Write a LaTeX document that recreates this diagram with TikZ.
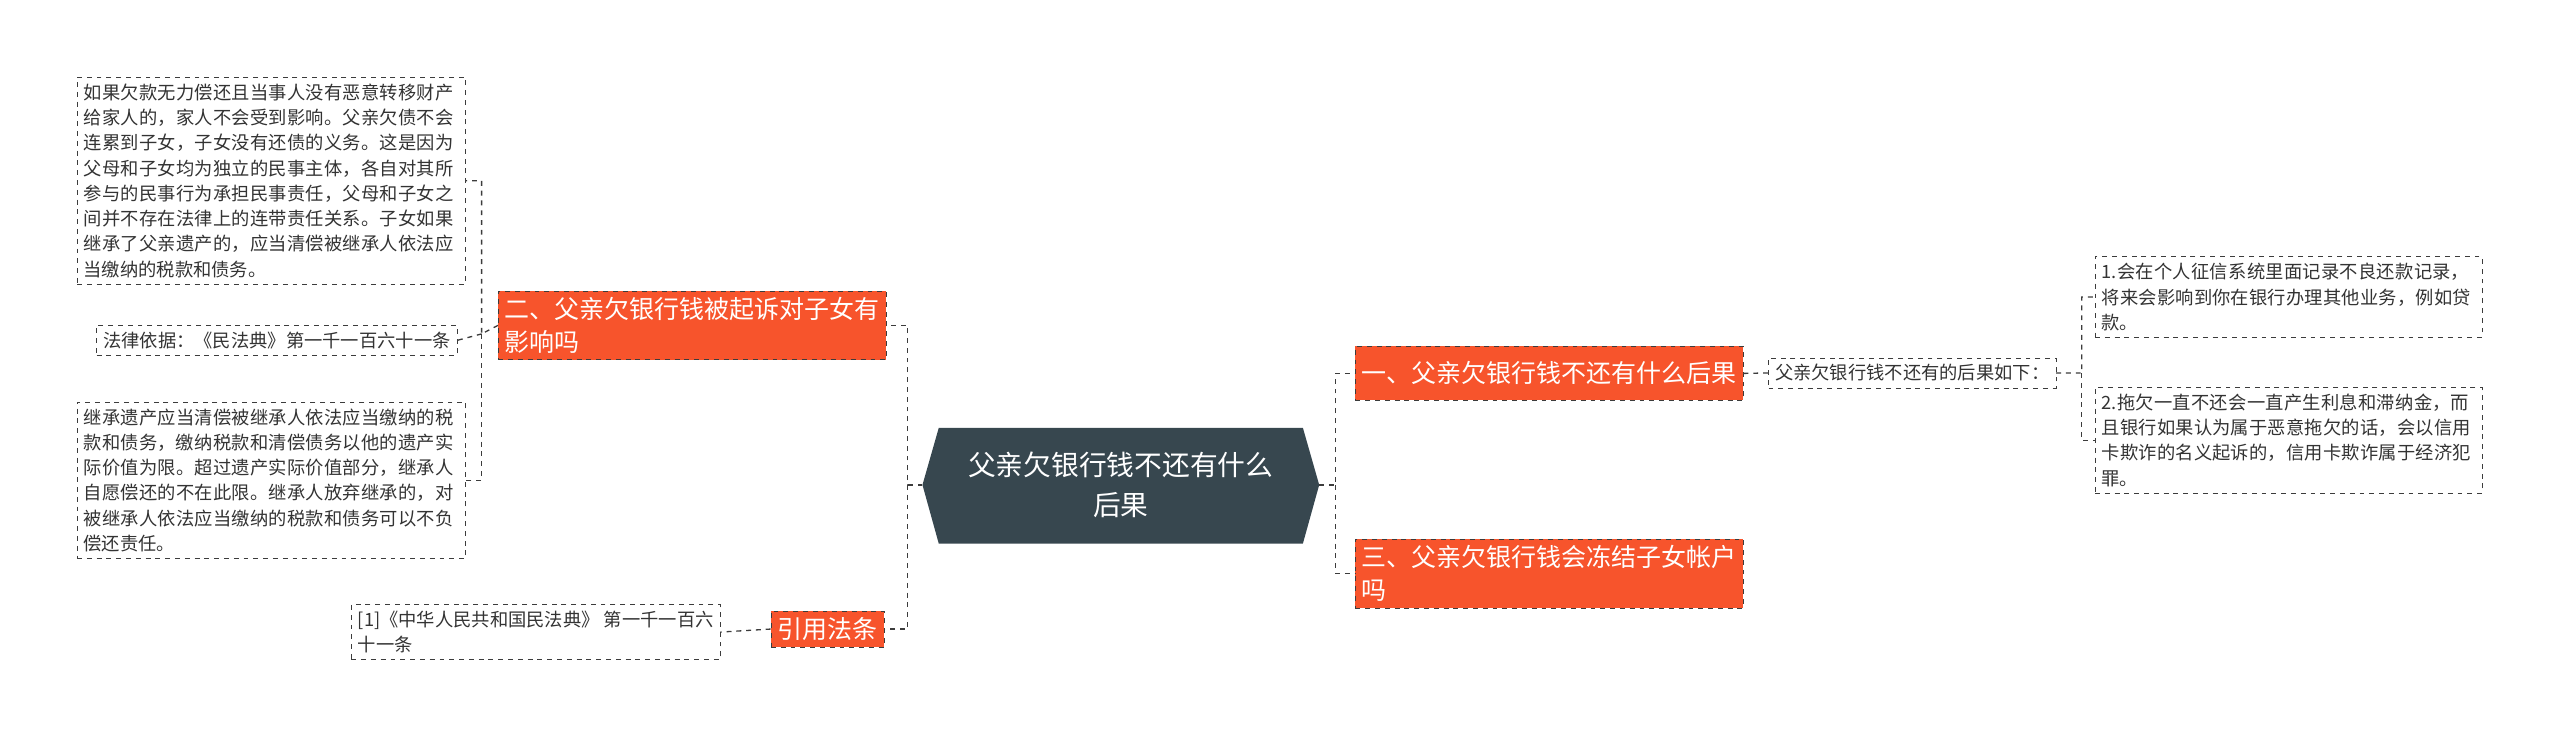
\documentclass[tikz,border=0pt]{standalone}
\usepackage{fontspec}
\setmainfont{Noto Sans CJK SC}
\XeTeXlinebreaklocale "zh"
\XeTeXlinebreakskip=0pt plus 1pt
\usetikzlibrary{shapes.geometric}
\definecolor{org}{RGB}{247,84,44}
\definecolor{dark}{RGB}{55,71,79}
\definecolor{ln}{RGB}{60,60,60}
\tikzset{
 br/.style={draw=ln,dashed,fill=org,text=white,font=\fontsize{15.3}{20}\selectfont,align=left,anchor=north west,inner sep=4pt},
 lf/.style={draw=ln,dashed,text=black!80,font=\fontsize{11.2}{15.5}\selectfont,align=left,anchor=north west,inner sep=4pt},
 cn/.style={draw=ln,dashed,line width=0.8pt}
}
\begin{document}
\begin{tikzpicture}[x=1pt,y=-1pt]
\useasboundingbox (0,0) rectangle (1568,459);
\fill[dark] (565,297)--(575,262)--(798,262)--(808,297)--(798,333)--(575,333)--cycle;
\node[text=white,font=\fontsize{17}{24}\selectfont,align=center] (c) at (686.5,297) {父亲欠银行钱不还有什么\\后果};
\coordinate (cl) at (565,297); \coordinate (cr) at (808,297);
\node[br,minimum height=33pt] (b1) at (830,212) {一、父亲欠银行钱不还有什么后果};
\node[br] (b3) at (830,330) {三、父亲欠银行钱会冻结子女帐户\\吗};
\node[lf] (m) at (1083,219) {父亲欠银行钱不还有的后果如下：};
\node[lf,text width=229pt] (r1) at (1283,157) {1.会在个人征信系统里面记录不良还款记录，将来会影响到你在银行办理其他业务，例如贷款。};
\node[lf,text width=229pt] (r2) at (1283,237) {2.拖欠一直不还会一直产生利息和滞纳金，而且银行如果认为属于恶意拖欠的话，会以信用卡欺诈的名义起诉的，信用卡欺诈属于经济犯罪。};
\node[br] (b2) at (305,178) {二、父亲欠银行钱被起诉对子女有\\影响吗};
\node[lf,text width=230pt] (l1) at (47,47) {如果欠款无力偿还且当事人没有恶意转移财产给家人的，家人不会受到影响。父亲欠债不会连累到子女，子女没有还债的义务。这是因为父母和子女均为独立的民事主体，各自对其所参与的民事行为承担民事责任，父母和子女之间并不存在法律上的连带责任关系。子女如果继承了父亲遗产的，应当清偿被继承人依法应当缴纳的税款和债务。};
\node[lf] (l2) at (59,199) {法律依据：《民法典》第一千一百六十一条};
\node[lf,text width=230pt] (l3) at (47,246) {继承遗产应当清偿被继承人依法应当缴纳的税款和债务，缴纳税款和清偿债务以他的遗产实际价值为限。超过遗产实际价值部分，继承人自愿偿还的不在此限。继承人放弃继承的，对被继承人依法应当缴纳的税款和债务可以不负偿还责任。};
\node[br] (b4) at (472,374) {引用法条};
\node[lf] (l4) at (215,370) {[1]《中华人民共和国民法典》 第一千一百六\\十一条};
\draw[cn] (cr)--(818,297) |- (b1.west);
\draw[cn] (818,297) |- (b3.west);
\draw[cn] (cl)--(556,297) |- (b2.east);
\draw[cn] (556,297) |- (b4.east);
\draw[cn] (b1.east)--(m.west);
\draw[cn] (m.east)--(1275,228.5) |- (r1.west);
\draw[cn] (1275,228.5) |- (r2.west);
\draw[cn] (b2.west)--(295,204.5) |- (l1.east);
\draw[cn] (295,204.5) -- (l2.east);
\draw[cn] (295,204.5) |- (l3.east);
\draw[cn] (b4.west)--(l4.east);
\end{tikzpicture}
\end{document}
